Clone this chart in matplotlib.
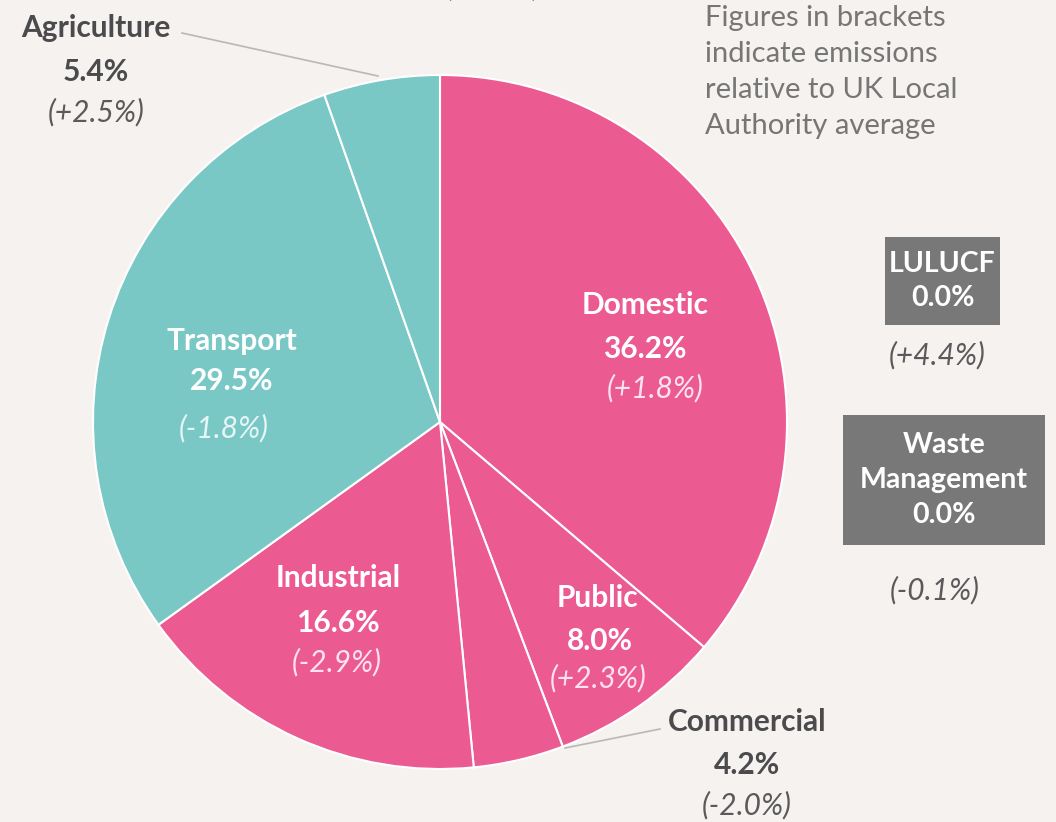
import matplotlib.pyplot as plt

# sector shares (%) and emissions relative to UK Local Authority average
sectors = ["Domestic", "Public", "Commercial", "Industrial", "Transport", "Agriculture"]
shares = [36.2, 8.0, 4.2, 16.6, 29.5, 5.4]
relative = ["+1.8%", "+2.3%", "-2.0%", "-2.9%", "-1.8%", "+2.5%"]

# sectors with no share, shown as grey boxes
zero_sectors = ["LULUCF", "Waste\nManagement"]
zero_shares = [0.0, 0.0]
zero_relative = ["+4.4%", "-0.1%"]

PINK = "#ec5a92"
TEAL = "#7ac8c6"
BG = "#f5f2ef"
DARK = "#4b4b4d"
colors = [PINK, PINK, PINK, PINK, TEAL, TEAL]

W, H = 1056, 822
fig = plt.figure(figsize=(W / 100, H / 100), dpi=100, facecolor=BG)
ax = fig.add_axes([0, 0, 1, 1])
ax.set_facecolor(BG)

ax.pie(shares, colors=colors, startangle=90, counterclock=False,
       center=(440, H - 422), radius=347,
       wedgeprops=dict(edgecolor="white", linewidth=1.5))
ax.set_xlim(0, W)
ax.set_ylim(0, H)
ax.set_aspect("equal")
ax.axis("off")

FONT = "Lato"
FS = 21.5


def y(px):
    # pixel row from top -> data y
    return H - px


# label placements (pixel coords: name, value, bracket), inside=True means white text
label_pos = {
    "Domestic": ((645, 305), (645, 349), (655, 388), True),
    "Public": ((597, 598), (600, 641), (598, 678), True),
    "Commercial": ((747, 722), (747, 765), (747, 805), False),
    "Industrial": ((338, 578), (338, 623), (337, 662), True),
    "Transport": ((232, 341), (232, 381), (224, 428), True),
    "Agriculture": ((96, 28), (96, 72), (96, 112), False),
}

for name, val, rel in zip(sectors, shares, relative):
    p_name, p_val, p_rel, inside = label_pos[name]
    c_main = "white" if inside else DARK
    c_rel = "#fde3ee" if inside else "#5a5a5c"
    if name == "Transport":
        c_rel = "#e6f6f5"
    ax.text(p_name[0], y(p_name[1]), name, ha="center", va="center",
            fontsize=FS, fontweight="bold", color=c_main, family=FONT)
    ax.text(p_val[0], y(p_val[1]), f"{val:.1f}%", ha="center", va="center",
            fontsize=FS, fontweight="bold", color=c_main, family=FONT)
    ax.text(p_rel[0], y(p_rel[1]), f"({rel})", ha="center", va="center",
            fontsize=FS, style="italic", color=c_rel, family=FONT)

# leader lines for the small outside-labelled slices
ax.plot([182, 378], [y(33), y(76)], color="#b8b8b8", lw=1.2)
ax.plot([565, 660], [y(748), y(729)], color="#b8b8b8", lw=1.2)

# grey boxes for zero-share sectors
boxes = [(885, 237, 115, 88), (843, 415, 202, 130)]
rel_pos = [(937, 355), (935, 590)]
for name, val, rel, (bx, by, bw, bh), (rx, ry) in zip(zero_sectors, zero_shares,
                                                      zero_relative, boxes, rel_pos):
    ax.add_patch(plt.Rectangle((bx, y(by + bh)), bw, bh, facecolor="#787878",
                               edgecolor="none"))
    ax.text(bx + bw / 2, y(by + bh / 2), f"{name}\n{val:.1f}%", ha="center",
            va="center", fontsize=FS - 1, fontweight="bold", color="white",
            family=FONT, linespacing=1.42)
    ax.text(rx, y(ry), f"({rel})", ha="center", va="center", fontsize=FS,
            style="italic", color="#5a5a5c", family=FONT)

# note in the top right
ax.text(705, y(5), "Figures in brackets\nindicate emissions\nrelative to UK Local\nAuthority average",
        ha="left", va="top", fontsize=21, color="#767676", family=FONT,
        linespacing=1.47)

# title, mostly cut off by the top edge
ax.text(440, y(-4), "Sector (2020)", ha="center", va="baseline", fontsize=24,
        color=DARK, family=FONT)

fig.savefig("out.png", dpi=100, facecolor=BG)
